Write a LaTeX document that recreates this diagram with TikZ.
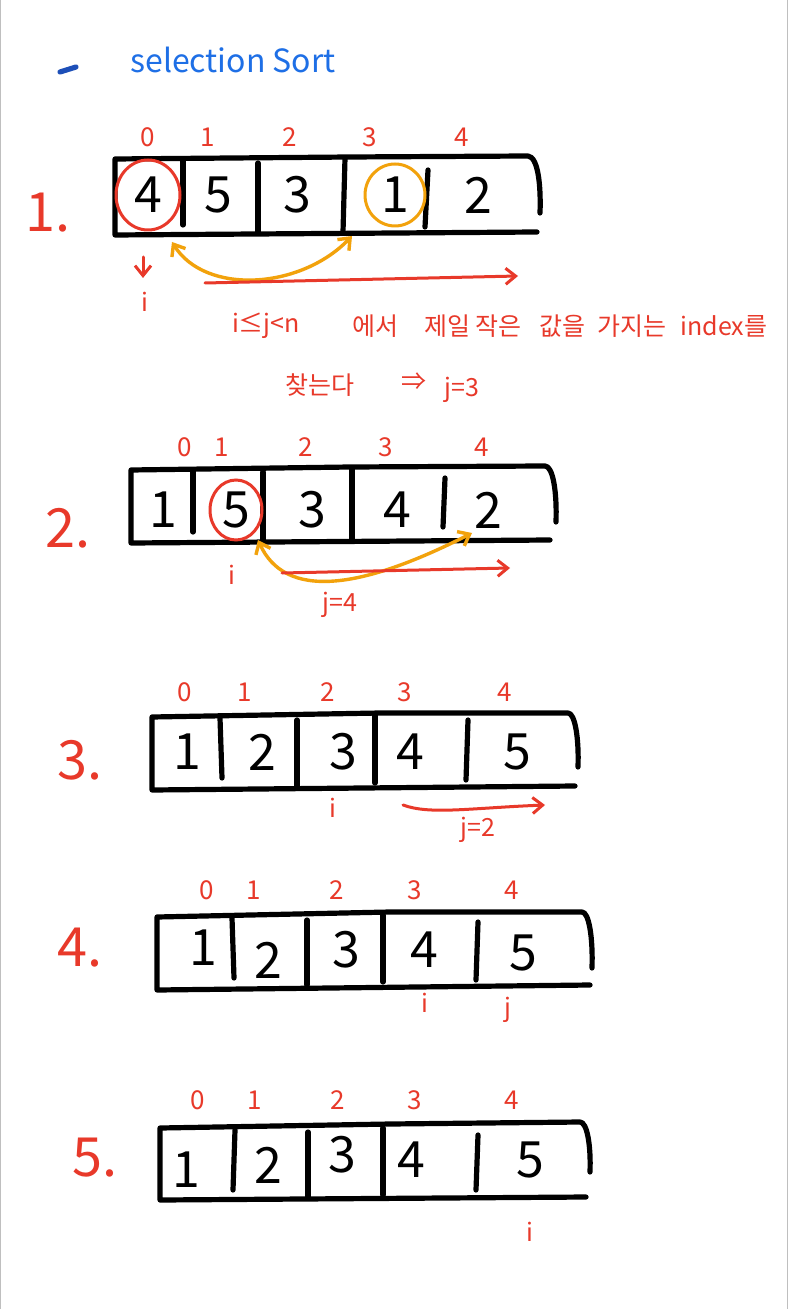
\documentclass[tikz,border=0pt]{standalone}
\usepackage{fontspec}
\setmainfont{Noto Sans CJK KR}
\usetikzlibrary{arrows.meta}
\definecolor{pen}{HTML}{E8392A}
\definecolor{hl}{HTML}{F2A20C}
\definecolor{ttl}{HTML}{1E6FE6}
\definecolor{dashblue}{HTML}{1D4FB8}
\tikzset{
  box/.style={line width=2.6pt, black, line cap=round, line join=round},
  idx/.style={text=pen, font=\fontsize{13}{13}\selectfont, inner sep=0pt},
  val/.style={font=\fontsize{25}{25}\selectfont, inner sep=0pt},
  stepnum/.style={text=pen, font=\fontsize{27}{27}\selectfont, inner sep=0pt},
  note/.style={text=pen, font=\fontsize{12.5}{12.5}\selectfont, inner sep=0pt},
  redarrow/.style={draw=pen, line width=1.5pt, line cap=round, -{Straight Barb[length=5pt,width=8pt]}},
  swaparrow/.style={draw=hl, line width=1.7pt, line cap=round, {Straight Barb[length=5pt,width=8pt]}-{Straight Barb[length=5pt,width=8pt]}},
  redcirc/.style={draw=pen, line width=1.5pt},
  orcirc/.style={draw=hl, line width=1.5pt}
}
\begin{document}
\begin{tikzpicture}[x=0.5pt,y=-0.5pt]
\useasboundingbox (0,0) rectangle (788,1309);
\fill[white] (0,0) rectangle (788,1309);
\draw[gray!50, line width=0.6pt] (0.5,0) -- (0.5,1309);
\draw[gray!50, line width=0.6pt] (787.5,0) -- (787.5,1309);

% title
\coordinate (d1) at (60,72);
\coordinate (d2) at (76,67);
\draw[dashblue, line width=2.6pt, line cap=round] (d1) -- (d2);
\node[text=ttl, font=\fontsize{16}{16}\selectfont, inner sep=0pt] (title) at (233,60) {selection Sort};

% ---------- Array 1 ----------
\node[stepnum] (s1) at (48,213) {1.};
\draw[box] (540,213) .. controls (541,185) and (538,157) .. (528,156) -- (350,157) -- (115,159) -- (115,235) -- (537,232);
\draw[box] (183,160) -- (183,225);
\draw[box] (258,163) -- (258,232);
\draw[box] (345,158) -- (343,232);
\draw[box] (428,170) -- (425,227);
\foreach \n/\x/\t in {0/148/0,1/208/1,2/290/2,3/370/3,4/462/4}
  \node[idx] (a1i\n) at (\x,137) {\t};
\foreach \n/\x/\t in {0/148/4,1/218/5,2/297/3,3/395/1,4/478/2}
  \node[val] (a1v\n) at (\x,195) {\t};
\draw[redcirc] (a1v0.center) ellipse [x radius=32, y radius=35];
\draw[orcirc] (a1v3.center) ellipse [x radius=30, y radius=31];
\coordinate (sw1a) at (172,242);
\coordinate (sw1b) at (352,236);
\draw[swaparrow] (sw1a) .. controls (205,295) and (300,290) .. (sw1b);
\coordinate (r1a) at (205,283);
\coordinate (r1b) at (518,276);
\draw[redarrow] (r1a) -- (r1b);
\coordinate (da) at (143,257);
\coordinate (db) at (143,278);
\draw[redarrow] (da) -- (db);
\node[note] (i1) at (145,302) {i};
\node[note] (t1) at (266,326) {i≤j<n};
\node[note] (t2) at (375,326) {에서};
\node[note] (t3) at (473,326) {제일 작은};
\node[note] (t4) at (562,326) {값을};
\node[note] (t5) at (632,326) {가지는};
\node[note] (t6) at (724,326) {index를};
\node[note] (t7) at (320,385) {찾는다};
\node[note] (t8) at (414,382) {⇒};
\node[note] (t9) at (462,390) {j=3};

% ---------- Array 2 ----------
\node[stepnum] (s2) at (68,528) {2.};
\draw[box] (556,522) .. controls (557,492) and (553,466) .. (545,466) -- (350,467) -- (131,470) -- (131,543) -- (550,540);
\draw[box] (193,471) -- (193,532);
\draw[box] (263,472) -- (263,540);
\draw[box] (352,468) -- (352,540);
\draw[box] (445,478) -- (443,527);
\foreach \n/\x/\t in {0/185/0,1/222/1,2/306/2,3/386/3,4/482/4}
  \node[idx] (a2i\n) at (\x,447) {\t};
\foreach \n/\x/\t in {0/163/1,1/236/5,2/312/3,3/397/4,4/488/2}
  \node[val] (a2v\n) at (\x,510) {\t};
\draw[redcirc] (a2v1.center) ellipse [x radius=26, y radius=30];
\coordinate (sw2a) at (258,540);
\coordinate (sw2b) at (472,533);
\draw[swaparrow] (sw2a) .. controls (285,600) and (360,590) .. (sw2b);
\coordinate (r2a) at (282,573);
\coordinate (r2b) at (510,568);
\draw[redarrow] (r2a) -- (r2b);
\node[note] (i2) at (232,575) {i};
\node[note] (j2) at (340,605) {j=4};

% ---------- Array 3 ----------
\node[stepnum] (s3) at (80,760) {3.};
\draw[box] (578,767) .. controls (579,738) and (575,713) .. (568,713) -- (380,713) -- (152,717) -- (152,790) -- (575,786);
\draw[box] (220,718) -- (222,778);
\draw[box] (297,720) -- (297,787);
\draw[box] (375,714) -- (375,783);
\draw[box] (468,720) -- (466,780);
\foreach \n/\x/\t in {0/185/0,1/245/1,2/328/2,3/405/3,4/505/4}
  \node[idx] (a3i\n) at (\x,692) {\t};
\foreach \n/\x/\t in {0/187/1,1/262/2,2/343/3,3/410/4,4/517/5}
  \node[val] (a3v\n) at (\x,752) {\t};
\coordinate (r3a) at (403,805);
\coordinate (r3b) at (545,805);
\draw[redarrow] (r3a) .. controls (430,815) and (470,808) .. (r3b);
\node[note] (i3) at (333,808) {i};
\node[note] (j3) at (478,830) {j=2};

% ---------- Array 4 ----------
\node[stepnum] (s4) at (80,948) {4.};
\draw[box] (592,968) .. controls (593,938) and (589,912) .. (582,912) -- (390,912) -- (157,917) -- (157,990) -- (590,985);
\draw[box] (232,918) -- (234,978);
\draw[box] (307,920) -- (307,985);
\draw[box] (383,915) -- (383,982);
\draw[box] (478,922) -- (476,980);
\foreach \n/\x/\t in {0/207/0,1/254/1,2/337/2,3/415/3,4/512/4}
  \node[idx] (a4i\n) at (\x,890) {\t};
\foreach \n/\x/\y/\t in {0/203/948/1,1/268/960/2,2/346/950/3,3/424/950/4,4/523/953/5}
  \node[val] (a4v\n) at (\x,\y) {\t};
\node[note] (i4) at (425,1003) {i};
\node[note] (j4) at (508,1010) {j};

% ---------- Array 5 ----------
\node[stepnum] (s5) at (95,1158) {5.};
\draw[box] (590,1172) .. controls (591,1145) and (587,1122) .. (580,1122) -- (390,1124) -- (160,1128) -- (160,1200) -- (586,1197);
\draw[box] (235,1130) -- (233,1190);
\draw[box] (308,1132) -- (308,1197);
\draw[box] (383,1128) -- (383,1195);
\draw[box] (478,1135) -- (476,1190);
\foreach \n/\x/\t in {0/198/0,1/255/1,2/338/2,3/415/3,4/512/4}
  \node[idx] (a5i\n) at (\x,1100) {\t};
\foreach \n/\x/\y/\t in {0/186/1170/1,1/268/1165/2,2/342/1155/3,3/411/1160/4,4/530/1160/5}
  \node[val] (a5v\n) at (\x,\y) {\t};
\node[note] (i5) at (530,1232) {i};
\end{tikzpicture}
\end{document}
